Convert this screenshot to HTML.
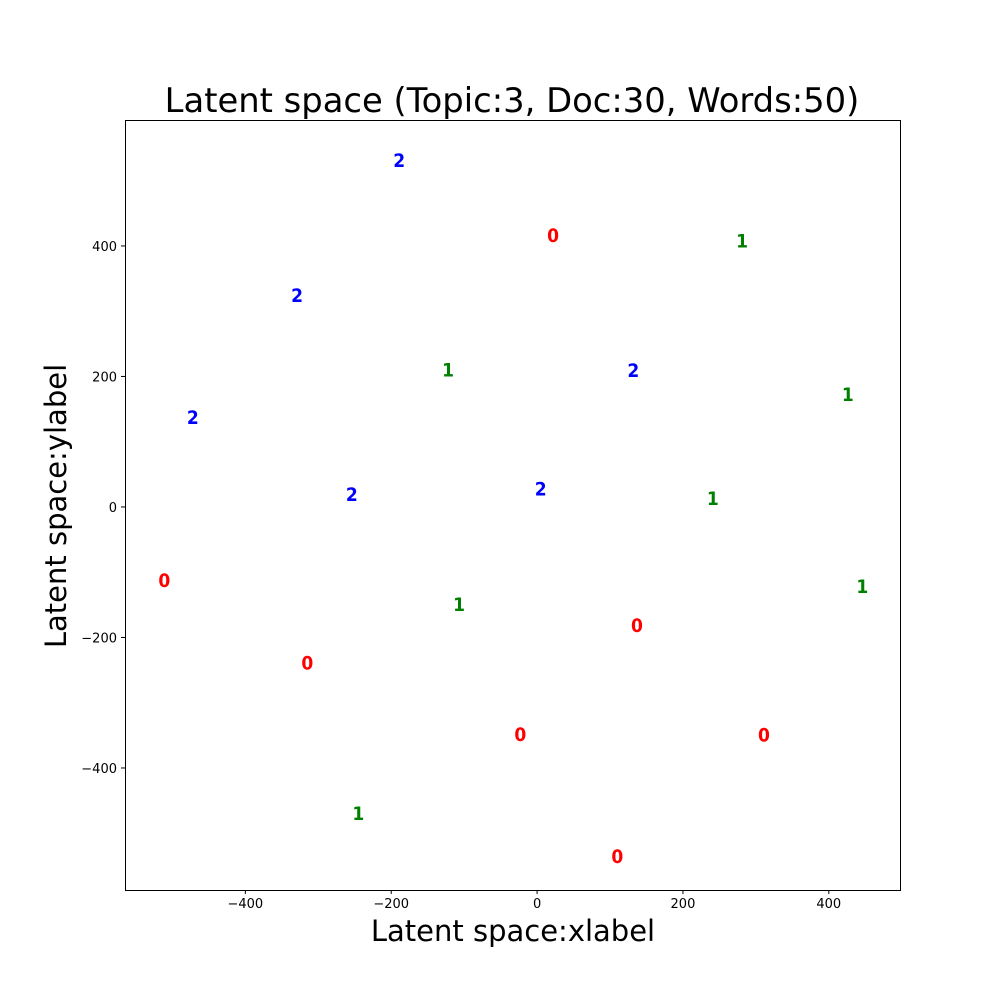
<!DOCTYPE html>
<html><head><meta charset="utf-8"><style>body{margin:0;background:#fff}svg{display:block}</style></head>
<body>
<svg id="c" width="1000" height="1000" xmlns="http://www.w3.org/2000/svg" font-family="DejaVu Sans, Liberation Sans, sans-serif">
<rect width="1000" height="1000" fill="#fff"/>
<text x="512" y="112" font-size="33.8" text-anchor="middle">Latent space (Topic:3, Doc:30, Words:50)</text>
<text x="513" y="941" font-size="29" text-anchor="middle">Latent space:xlabel</text>
<text transform="translate(66,506) rotate(-90)" font-size="29" text-anchor="middle">Latent space:ylabel</text>
<g id="ticks"></g>
<g id="marks"></g>
<rect x="125.5" y="120.5" width="775" height="770" fill="none" stroke="#000" stroke-width="1"/>
</svg>
<script>
const xTicks=[-400,-200,0,200,400];
const yTicks=[-400,-200,0,200,400];
const labels=[2,0,1,2,1,2,1,2,2,2,1,0,1,1,0,0,0,0,1,0];
const xs=[-189,22,281,-329,-122,132,426,-472,-254,5,241,-511,-107,446,137,-315,-23,311,-245,110];
const ys=[532,417,408,325,211,210,173,138,20,28,14,-112,-149,-121,-181,-238,-348,-349,-469,-535];
const colors=['#ff0000','#008000','#0000ff'];
const L=125,R=900,T=120,B=890,xmin=-565,xmax=497.6,ymin=-587,ymax=593;
const sx=v=>L+(v-xmin)/(xmax-xmin)*(R-L);
const sy=v=>B-(v-ymin)/(ymax-ymin)*(B-T);
const NS='http://www.w3.org/2000/svg';
const tg=document.getElementById('ticks'),mg=document.getElementById('marks');
function mk(tag,attrs,parent){const e=document.createElementNS(NS,tag);for(const k in attrs)e.setAttribute(k,attrs[k]);parent.appendChild(e);return e;}
xTicks.forEach(t=>{const x=sx(t);
 const l=mk('line',{x1:x,x2:x,y1:B,y2:B+4,stroke:'#000'},tg);
 
 
 const s=mk('text',{x:x,y:B+18,'font-size':13,'text-anchor':'middle'},tg);s.textContent=String(t).replace('-','\u2212');
 
 });
yTicks.forEach(t=>{const y=sy(t);
 const l=mk('line',{x1:L-4,x2:L,y1:y,y2:y,stroke:'#000'},tg);
 
 
 const s=mk('text',{x:L-8,y:y+5,'font-size':13,'text-anchor':'end'},tg);s.textContent=String(t).replace('-','\u2212');
 
 });
labels.forEach((lb,i)=>{
 const s=mk('text',{x:sx(xs[i]),y:sy(ys[i])+7,'font-size':19,'font-weight':'bold','text-anchor':'middle',fill:colors[lb],transform:'',style:'font-stretch:condensed'},mg);
 s.textContent=lb;
 
 });
</script>
</body></html>
